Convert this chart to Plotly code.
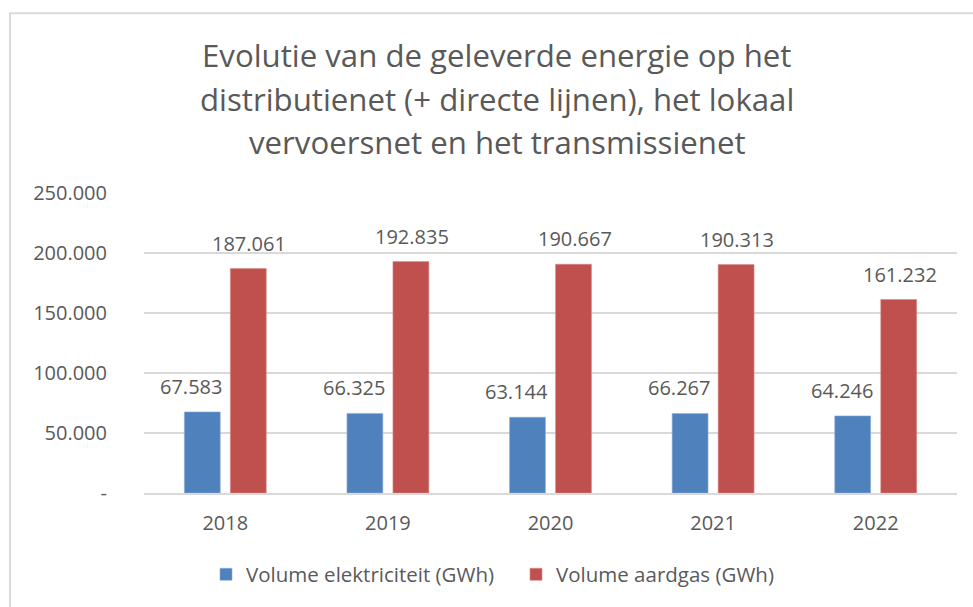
import plotly.graph_objects as go

years = ["2018", "2019", "2020", "2021", "2022"]
elektriciteit = [67583, 66325, 63144, 66267, 64246]
aardgas = [187061, 192835, 190667, 190313, 161232]
series_names = ["Volume elektriciteit (GWh)", "Volume aardgas (GWh)"]
y_tickvals = [0, 50000, 100000, 150000, 200000, 250000]
y_ticktext = ["-", "50.000", "100.000", "150.000", "200.000", "250.000"]
title_lines = ["Evolutie van de geleverde energie op het",
               "distributienet (+ directe lijnen), het lokaal",
               "vervoersnet en het transmissienet"]

BLUE = "#4F81BD"
RED = "#C0504D"
GREY = "#595959"
FONT = "Open Sans"

W, H = 973, 607
L, R, T, B = 144, 16, 193, 112
pw, ph = W - L - R, H - T - B

def fmt(v):
    return f"{v:,}".replace(",", ".")

def px_x(x):
    return (x - L) / pw

def px_y(y):
    return (H - B - y) / ph

fig = go.Figure()
fig.add_trace(go.Bar(x=years, y=elektriciteit, name=series_names[0],
                     marker=dict(color=BLUE, line=dict(color="#8fb0da", width=0.6))))
fig.add_trace(go.Bar(x=years, y=aardgas, name=series_names[1],
                     marker=dict(color=RED, line=dict(color="#d98a88", width=0.6))))

annotations = []
# on a category axis, annotation x is the category's serial index
for i, v in enumerate(elektriciteit):
    annotations.append(dict(x=i, y=v, xref="x", yref="y", text=fmt(v), showarrow=False,
                            xshift=-34, yshift=10, yanchor="bottom",
                            font=dict(family=FONT, size=20, color=GREY)))
for i, v in enumerate(aardgas):
    annotations.append(dict(x=i, y=v, xref="x", yref="y", text=fmt(v), showarrow=False,
                            xshift=24, yshift=10, yanchor="bottom",
                            font=dict(family=FONT, size=20, color=GREY)))
for line, yc in zip(title_lines, [54, 98, 142]):
    annotations.append(dict(x=px_x(497), y=px_y(yc), xref="paper", yref="paper",
                            text=line, showarrow=False, xanchor="center", yanchor="middle",
                            font=dict(family=FONT, size=31.2, color=GREY)))

fig.update_layout(
    width=W, height=H,
    margin=dict(l=L, r=R, t=T, b=B),
    paper_bgcolor="white", plot_bgcolor="white",
    separators=",.",
    barmode="group", bargap=0.434, bargroupgap=0.22,
    font=dict(family=FONT, color=GREY),
    showlegend=True,
    legend=dict(orientation="h", x=px_x(516), xanchor="center",
                y=px_y(577), yanchor="middle",
                font=dict(family=FONT, size=20.5, color=GREY),
                entrywidth=265, itemwidth=30, bgcolor="rgba(0,0,0,0)"),
    annotations=annotations,
    shapes=[dict(type="rect", xref="paper", yref="paper",
                 x0=px_x(10), x1=1.2, y0=-1.0, y1=px_y(12),
                 line=dict(color="#D9D9D9", width=2), fillcolor="rgba(0,0,0,0)", layer="below")],
)
fig.update_xaxes(type="category", range=[-0.5, len(years) - 0.5],
                 showgrid=False, showline=True, linecolor="#D9D9D9", linewidth=1.5,
                 tickfont=dict(family=FONT, size=20, color=GREY), ticks="",
                 ticklabelstandoff=11)
fig.update_yaxes(range=[0, 250000], tickvals=y_tickvals, ticktext=y_ticktext,
                 showgrid=True, gridcolor="#D9D9D9", gridwidth=1.5, zeroline=False,
                 showline=False, tickfont=dict(family=FONT, size=20, color=GREY),
                 ticks="", ticklabelstandoff=36)

fig.write_html("out.html", post_script="document.body.style.margin='0px';",
               config={"displayModeBar": False})
